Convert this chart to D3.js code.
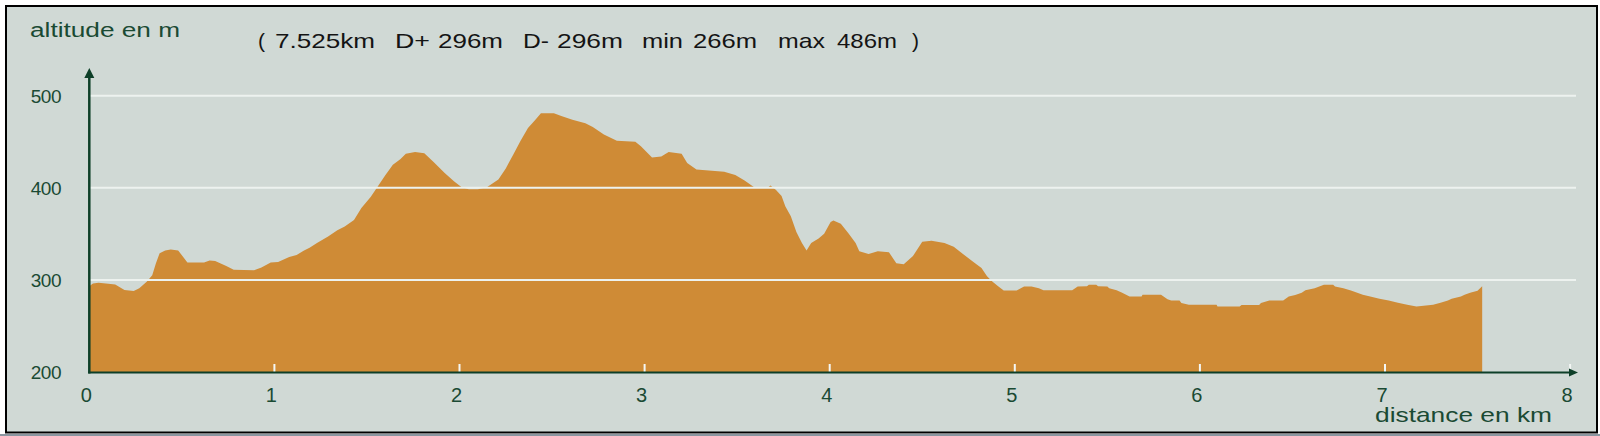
<!DOCTYPE html>
<html>
<head>
<meta charset="utf-8">
<script src="https://cdn.jsdelivr.net/npm/d3@7"></script>
<style>
  html, body { margin: 0; padding: 0; background: #ffffff; }
  svg { display: block; }
  text { font-family: "Liberation Sans", Arial, sans-serif; }
</style>
</head>
<body>
<svg id="chart" width="1600" height="436"></svg>
<script>
// ---- data ----
const distanceKm = [0, 0.02, 0.05, 0.09, 0.14, 0.19, 0.24, 0.27, 0.31, 0.34, 0.36, 0.38, 0.41, 0.44, 0.48, 0.53, 0.62, 0.65, 0.68, 0.74, 0.78, 0.89, 0.93, 0.98, 1.02, 1.08, 1.12, 1.16, 1.19, 1.23, 1.29, 1.34, 1.38, 1.43, 1.47, 1.52, 1.56, 1.60, 1.64, 1.68, 1.71, 1.76, 1.81, 1.86, 1.92, 1.97, 2.01, 2.05, 2.10, 2.15, 2.21, 2.25, 2.29, 2.33, 2.37, 2.41, 2.44, 2.51, 2.55, 2.61, 2.68, 2.72, 2.78, 2.85, 2.95, 2.98, 3.04, 3.09, 3.13, 3.20, 3.23, 3.28, 3.43, 3.49, 3.54, 3.59, 3.67, 3.68, 3.71, 3.74, 3.76, 3.79, 3.82, 3.85, 3.875, 3.90, 3.94, 3.97, 4.005, 4.02, 4.06, 4.10, 4.14, 4.16, 4.21, 4.26, 4.32, 4.36, 4.40, 4.45, 4.50, 4.55, 4.62, 4.67, 4.72, 4.78, 4.82, 4.85, 4.88, 4.91, 4.94, 5.01, 5.05, 5.09, 5.13, 5.155, 5.31, 5.34, 5.39, 5.40, 5.44, 5.45, 5.50, 5.51, 5.55, 5.58, 5.62, 5.685, 5.69, 5.79, 5.825, 5.845, 5.89, 5.90, 5.94, 6.09, 6.095, 6.215, 6.225, 6.32, 6.33, 6.375, 6.45, 6.48, 6.515, 6.55, 6.57, 6.62, 6.645, 6.67, 6.72, 6.73, 6.775, 6.82, 6.85, 6.88, 6.92, 6.97, 7.02, 7.07, 7.12, 7.17, 7.26, 7.30, 7.34, 7.36, 7.41, 7.43, 7.46, 7.50, 7.525];
const altitudeM = [293, 296, 297, 296, 295, 289, 288, 291, 298, 305, 318, 329, 332, 333, 332, 319, 319, 321, 320.5, 315, 311, 310.5, 313.5, 319, 319.5, 325, 327, 332, 335, 340, 347, 354, 358, 365, 378, 390, 402, 414, 425, 431, 437, 439, 437.5, 428, 416, 407, 401, 398.5, 398.5, 401, 409, 421, 436, 451, 465, 474, 481, 481, 478, 474, 470, 466, 458, 451, 450, 445, 433, 434, 439, 437, 427, 420, 417.5, 414, 408, 401, 401, 402.5, 397.6, 391, 380, 369, 352, 340, 332, 340, 345, 350, 363, 364.5, 361, 351, 340, 331, 328, 331, 330, 318, 317, 326, 341.5, 342.5, 340, 336, 328, 319, 313, 304, 298, 293, 288.5, 288.5, 292.7, 292.7, 291, 288.7, 288.7, 292.7, 293, 294.8, 294.8, 293, 292.7, 291, 288.7, 286, 282, 282, 284, 284, 279, 277.5, 277.5, 275, 273, 273, 271, 271, 272.7, 272.7, 275, 277.5, 277.5, 282, 283.6, 286, 288.7, 290.8, 292.7, 294.8, 294.8, 292.7, 290.8, 288.3, 286, 284, 282, 279.6, 277.5, 275.3, 273, 271, 273, 275.3, 277.5, 279.6, 282, 284, 286, 288.3, 293];

const yTicks = [200, 300, 400, 500];
const xTicks = [0, 1, 2, 3, 4, 5, 6, 7, 8];
const yTitle = "altitude en m";
const xTitle = "distance en km";
const summaryTokens = ["(", "7.525km", "D+", "296m", "D-", "296m", "min", "266m", "max", "486m", ")"];

// ---- layout ----
const tokenLayout = [[258, 0], [275, 100], [395, 35], [438, 65], [523, 26], [557, 66], [642, 41], [693, 64], [778, 47], [837, 60], [912, 0]];
const BG = "#d0d9d5", AREA = "#cf8b36", GRID = "#edf2ef", AXIS = "#0d3f28", LABEL = "#1a4a33";

const svg = d3.select("#chart");

// frame
svg.append("rect").attr("x", 0).attr("y", 434).attr("width", 1600).attr("height", 2).attr("fill", "#8a96a0");
svg.append("rect").attr("x", 6).attr("y", 6).attr("width", 1591).attr("height", 426.5)
  .attr("fill", BG).attr("stroke", "#000").attr("stroke-width", 2);

const x = d3.scaleLinear().domain([0, 8]).range([89.3, 1570.1]);
const y = d3.scaleLinear().domain([200, 500]).range([372, 95.7]);

const pts = distanceKm.map((d, i) => [d, altitudeM[i]]);

// area
const area = d3.area().x(d => x(d[0])).y0(y(200)).y1(d => y(d[1])).curve(d3.curveLinear);
svg.append("path").datum(pts).attr("d", area).attr("fill", AREA);

// grid lines (over the area)
svg.append("g").selectAll("line").data(yTicks.filter(t => t > 200)).join("line")
  .attr("x1", x(0)).attr("x2", 1576)
  .attr("y1", d => y(d)).attr("y2", d => y(d))
  .attr("stroke", GRID).attr("stroke-width", 2);

// white ticks on x axis
svg.append("g").selectAll("line").data(xTicks.filter(t => t > 0)).join("line")
  .attr("x1", d => x(d)).attr("x2", d => x(d))
  .attr("y1", y(200) - 8).attr("y2", y(200))
  .attr("stroke", "#f4f7f5").attr("stroke-width", 2);

// axes
svg.append("line").attr("x1", x(0)).attr("x2", x(0)).attr("y1", y(200) + 1.5).attr("y2", 74)
  .attr("stroke", AXIS).attr("stroke-width", 2.5);
svg.append("path").attr("d", `M${x(0)},68 L${x(0) + 5},78 L${x(0) - 5},78 Z`).attr("fill", AXIS);
svg.append("line").attr("x1", x(0) - 1).attr("x2", 1574).attr("y1", y(200) + 0.5).attr("y2", y(200) + 0.5)
  .attr("stroke", AXIS).attr("stroke-width", 2);
svg.append("path").attr("d", `M1578,${y(200) + 0.5} L1569,${y(200) - 3.5} L1569,${y(200) + 4.5} Z`).attr("fill", AXIS);

// y tick labels
svg.append("g").selectAll("text").data(yTicks).join("text")
  .attr("x", 61).attr("y", d => y(d) + 7)
  .attr("text-anchor", "end").attr("font-size", 19).attr("letter-spacing", -0.5)
  .attr("fill", LABEL).text(d => d);

// x tick labels
svg.append("g").selectAll("text").data(xTicks).join("text")
  .attr("x", d => x(d) - 3).attr("y", 401.5)
  .attr("text-anchor", "middle").attr("font-size", 20)
  .attr("fill", LABEL).text(d => d);

// axis titles
svg.append("text").attr("x", 30).attr("y", 37.3).attr("font-size", 19.5)
  .attr("textLength", 150).attr("lengthAdjust", "spacingAndGlyphs")
  .attr("fill", LABEL).text(yTitle);
svg.append("text").attr("x", 1375).attr("y", 421.7).attr("font-size", 21)
  .attr("textLength", 177).attr("lengthAdjust", "spacingAndGlyphs")
  .attr("fill", LABEL).text(xTitle);

// summary line
const sg = svg.append("g");
summaryTokens.forEach((t, i) => {
  const [tx, tw] = tokenLayout[i];
  const el = sg.append("text").attr("x", tx).attr("y", 48).attr("font-size", 21).attr("fill", "#141414").text(t);
  if (tw > 0) el.attr("textLength", tw).attr("lengthAdjust", "spacingAndGlyphs");
});
</script>
</body>
</html>
